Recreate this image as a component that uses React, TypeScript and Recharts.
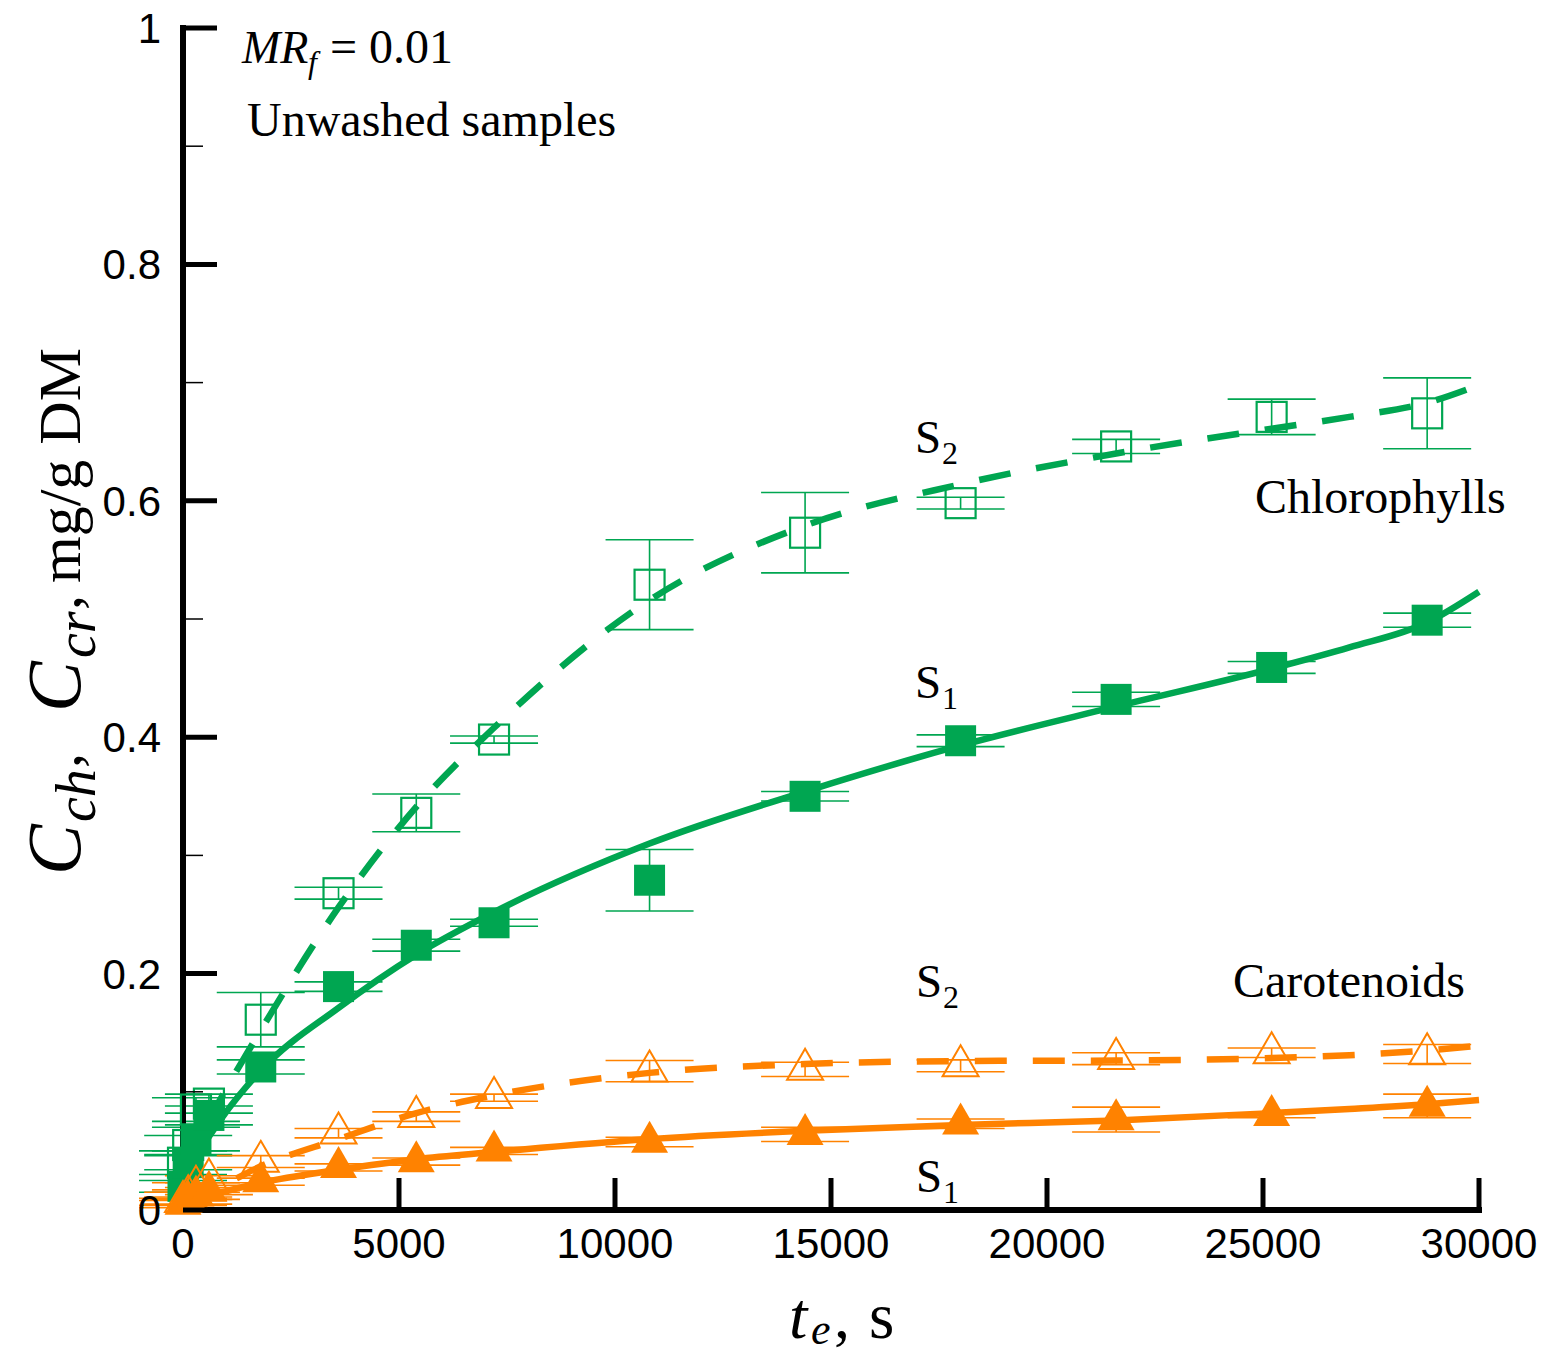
import React from 'react';
import { ComposedChart, Scatter, Line, XAxis, YAxis, ErrorBar, Label } from 'recharts';

const GREEN = '#00A651';
const ORANGE = '#FF8200';
const SERIF = '"Liberation Serif", "Times New Roman", Times, serif';
const SANS = '"Liberation Sans", Arial, Helvetica, sans-serif';

// sampling times, s
const times = [0, 120, 300, 600, 1800, 3600, 5400, 7200, 10800, 14400, 18000, 21600, 25200, 28800];

// chlorophylls, S1 (filled squares) and S2 (open squares)
const chlS1 = [0.02, 0.04, 0.06, 0.08, 0.121, 0.189, 0.224, 0.243, 0.279, 0.35, 0.397, 0.432, 0.459, 0.499];
const chlS1Err = [0.005, 0.006, 0.01, 0.008, 0.006, 0.004, 0.005, 0.003, 0.026, 0.004, 0.005, 0.006, 0.005, 0.006];
const chlS2 = [0.04, 0.055, 0.085, 0.09, 0.161, 0.268, 0.336, 0.398, 0.529, 0.573, 0.598, 0.646, 0.671, 0.674];
const chlS2Err = [0.01, 0.008, 0.01, 0.008, 0.023, 0.005, 0.016, 0.003, 0.038, 0.034, 0.005, 0.006, 0.015, 0.03];

// carotenoids, S1 (filled triangles) and S2 (open triangles)
const carS1 = [0.005, 0.008, 0.012, 0.016, 0.024, 0.036, 0.041, 0.05, 0.0575, 0.064, 0.073, 0.0765, 0.08, 0.088];
const carS1Err = [0.003, 0.003, 0.003, 0.003, 0.003, 0.003, 0.003, 0.003, 0.004, 0.006, 0.004, 0.0105, 0.002, 0.01];
const carS2 = [0.007, 0.012, 0.02, 0.026, 0.041, 0.065, 0.079, 0.095, 0.1175, 0.119, 0.122, 0.128, 0.133, 0.132];
const carS2Err = [0.003, 0.003, 0.003, 0.003, 0.005, 0.004, 0.004, 0.003, 0.009, 0.006, 0.005, 0.005, 0.004, 0.008];

// fitted model curves
const fitTimes = [0, 300, 600, 900, 1800, 3600, 5400, 7200, 10800, 14400, 18000, 21600, 25200, 27000, 28800, 30000];
const fitChlS1 = [0.025, 0.045, 0.062, 0.078, 0.118, 0.171, 0.216, 0.252, 0.31, 0.354, 0.393, 0.426, 0.458, 0.476, 0.497, 0.523];
const fitChlS2 = [0.03, 0.055, 0.076, 0.096, 0.152, 0.256, 0.341, 0.408, 0.516, 0.579, 0.614, 0.64, 0.661, 0.671, 0.683, 0.698];
const fitCarS1 = [0.005, 0.009, 0.012, 0.015, 0.023, 0.034, 0.043, 0.049, 0.06, 0.067, 0.072, 0.0758, 0.082, 0.0855, 0.0895, 0.093];
const fitCarS2 = [0.008, 0.012, 0.017, 0.021, 0.037, 0.06, 0.082, 0.097, 0.116, 0.1235, 0.126, 0.1265, 0.1285, 0.131, 0.135, 0.139];

const xTicks = [0, 5000, 10000, 15000, 20000, 25000, 30000];
const yTicks = [0, 0.1, 0.2, 0.3, 0.4, 0.5, 0.6, 0.7, 0.8, 0.9, 1];
const yTickLabels = ['0', '', '0.2', '', '0.4', '', '0.6', '', '0.8', '', '1'];

const pts = (vals: number[], errs: number[]) => times.map((t, i) => ({ t, v: vals[i], e: errs[i] }));
const fit = (vals: number[]) => fitTimes.map((t, i) => ({ t, v: vals[i] }));

const dChlS1 = pts(chlS1, chlS1Err);
const dChlS2 = pts(chlS2, chlS2Err);
const dCarS1 = pts(carS1, carS1Err);
const dCarS2 = pts(carS2, carS2Err);

const triPath = (cx: number, cy: number, w: number, h: number) =>
  `M${cx},${cy - (2 * h) / 3} L${cx + w / 2},${cy + h / 3} L${cx - w / 2},${cy + h / 3} Z`;

const FilledSquare = (p: any) => (
  <rect x={p.cx - 15.5} y={p.cy - 15.5} width={31} height={31} fill={GREEN} />
);
const OpenSquare = (p: any) => (
  <rect x={p.cx - 15} y={p.cy - 15} width={30} height={30} fill="none" stroke={GREEN} strokeWidth={2.2} />
);
const FilledTri = (p: any) => <path d={triPath(p.cx, p.cy, 37, 32)} fill={ORANGE} />;
const OpenTri = (p: any) => (
  <path d={triPath(p.cx, p.cy, 36, 31)} fill="none" stroke={ORANGE} strokeWidth={2} strokeLinejoin="miter" />
);

const YTick = (props: any) => {
  const { x, y, index } = props;
  const lab = yTickLabels[index];
  const major = lab !== '';
  return (
    <g>
      <line x1={x} x2={x + (major ? 34 : 20)} y1={y} y2={y} stroke="#000" strokeWidth={major ? 5 : 1.5} />
      {major && (
        <text x={x - 22} y={y + 15} textAnchor="end" fontFamily={SANS} fontSize={42} fill="#000">
          {lab}
        </text>
      )}
    </g>
  );
};

const XTick = (props: any) => {
  const { x, y, payload } = props;
  return (
    <g>
      {payload.value !== 0 && <line x1={x} x2={x} y1={y} y2={y - 32} stroke="#000" strokeWidth={5} />}
      <text x={x} y={y + 48} textAnchor="middle" fontFamily={SANS} fontSize={42} fill="#000">
        {String(payload.value)}
      </text>
    </g>
  );
};

const SLabel = ({ x, y, sub }: { x: number; y: number; sub: string }) => (
  <g fontFamily={SERIF} fill="#000">
    <text x={x} y={y} fontSize={47}>S</text>
    <text x={x + 27} y={y + 11} fontSize={32}>{sub}</text>
  </g>
);

const Annotations = () => (
  <g fill="#000">
    <g fontFamily={SERIF}>
      <text x={242} y={63} fontSize={46} fontStyle="italic">MR</text>
      <text x={308} y={73} fontSize={32} fontStyle="italic">f</text>
      <text x={330} y={63} fontSize={48}>= 0.01</text>
      <text x={247} y={136} fontSize={48}>Unwashed samples</text>
      <text x={1255} y={513} fontSize={48}>Chlorophylls</text>
      <text x={1233} y={997} fontSize={48}>Carotenoids</text>
      {/* x axis title */}
      <text x={789} y={1338} fontSize={66} fontStyle="italic">t</text>
      <text x={811} y={1344} fontSize={44} fontStyle="italic">e</text>
      <text x={834} y={1338} fontSize={64}>,</text>
      <text x={869} y={1338} fontSize={65}>s</text>
      {/* y axis title */}
      <g transform="rotate(-90)">
        <text x={-875} y={80} fontSize={76} fontStyle="italic">C</text>
        <text x={-822} y={95} fontSize={56} fontStyle="italic">ch</text>
        <text x={-768} y={80} fontSize={60}>,</text>
        <text x={-712} y={80} fontSize={76} fontStyle="italic">C</text>
        <text x={-658} y={95} fontSize={56} fontStyle="italic">cr</text>
        <text x={-610} y={80} fontSize={60}>,</text>
        <text x={-583} y={80} fontSize={60}>mg/g DM</text>
      </g>
    </g>
    <SLabel x={915} y={453} sub="2" />
    <SLabel x={915} y={698} sub="1" />
    <SLabel x={916} y={997} sub="2" />
    <SLabel x={916} y={1192} sub="1" />
  </g>
);

export default function App() {
  return (
    <div style={{ position: 'absolute', left: 0, top: 0, background: '#fff' }}>
      <ComposedChart width={1549} height={1356} margin={{ top: 28, right: 70, bottom: 145, left: 182 }}>
        <XAxis
          dataKey="t"
          type="number"
          domain={[0, 30000]}
          ticks={xTicks}
          height={1}
          tickSize={0}
          tickMargin={0}
          tickLine={false}
          tick={<XTick />}
          axisLine={{ stroke: '#000', strokeWidth: 6, strokeLinecap: 'square' }}
          interval={0}
        >
          <Label content={() => <Annotations />} />
        </XAxis>
        <YAxis
          type="number"
          domain={[0, 1]}
          ticks={yTicks}
          width={1}
          tickSize={0}
          tickMargin={0}
          tickLine={false}
          tick={<YTick />}
          axisLine={{ stroke: '#000', strokeWidth: 6, strokeLinecap: 'square' }}
          interval={0}
        />
        <Scatter data={dChlS2} dataKey="v" shape={<OpenSquare />} isAnimationActive={false}>
          <ErrorBar dataKey="e" direction="y" width={44} stroke={GREEN} strokeWidth={1.6} />
        </Scatter>
        <Scatter data={dChlS1} dataKey="v" shape={<FilledSquare />} isAnimationActive={false}>
          <ErrorBar dataKey="e" direction="y" width={44} stroke={GREEN} strokeWidth={1.6} />
        </Scatter>
        <Scatter data={dCarS2} dataKey="v" shape={<OpenTri />} isAnimationActive={false}>
          <ErrorBar dataKey="e" direction="y" width={44} stroke={ORANGE} strokeWidth={1.6} />
        </Scatter>
        <Scatter data={dCarS1} dataKey="v" shape={<FilledTri />} isAnimationActive={false}>
          <ErrorBar dataKey="e" direction="y" width={44} stroke={ORANGE} strokeWidth={1.6} />
        </Scatter>
        <Line data={fit(fitChlS2)} dataKey="v" type="monotone" stroke={GREEN} strokeWidth={6.5} strokeDasharray="32 26" dot={false} activeDot={false} isAnimationActive={false} />
        <Line data={fit(fitChlS1)} dataKey="v" type="monotone" stroke={GREEN} strokeWidth={6.5} dot={false} activeDot={false} isAnimationActive={false} />
        <Line data={fit(fitCarS2)} dataKey="v" type="monotone" stroke={ORANGE} strokeWidth={6.5} strokeDasharray="32 26" dot={false} activeDot={false} isAnimationActive={false} />
        <Line data={fit(fitCarS1)} dataKey="v" type="monotone" stroke={ORANGE} strokeWidth={6.5} dot={false} activeDot={false} isAnimationActive={false} />
      </ComposedChart>
    </div>
  );
}
